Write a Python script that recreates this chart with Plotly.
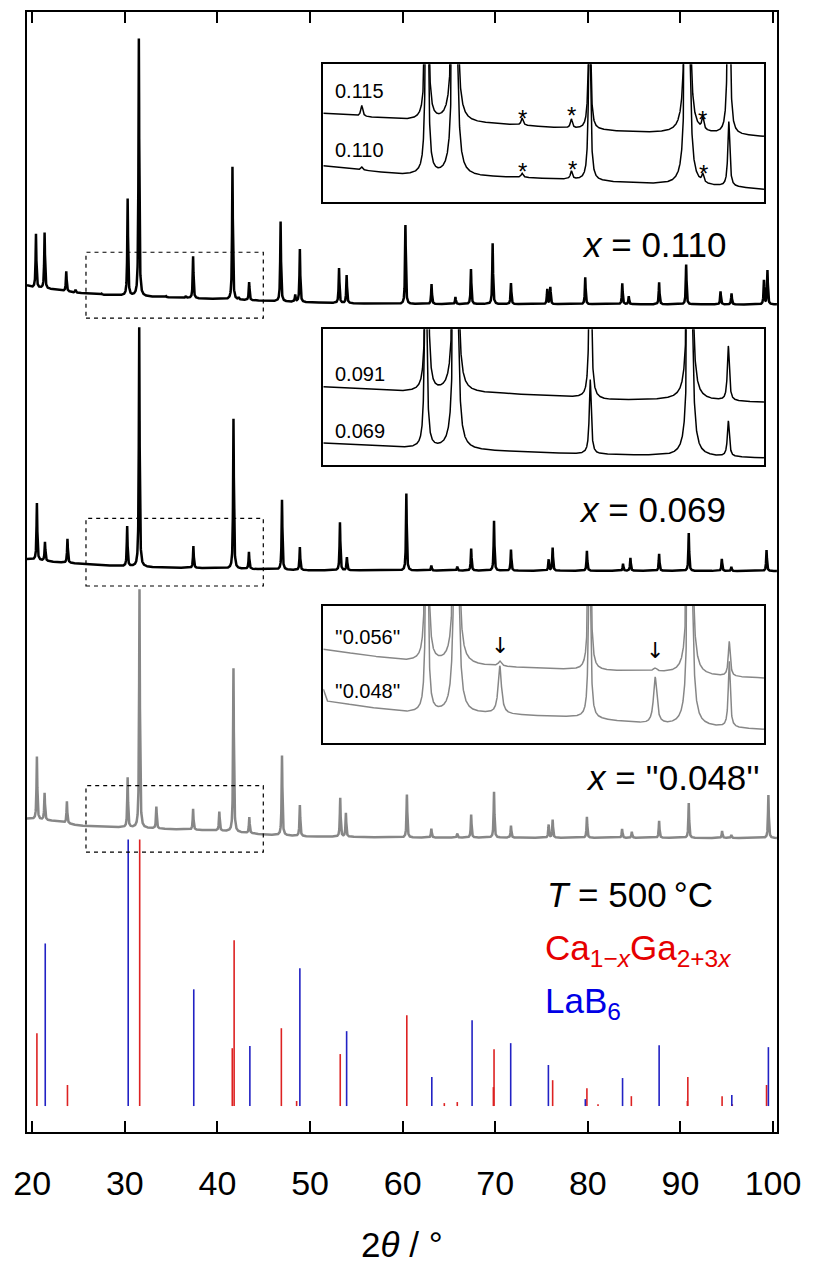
import numpy as np
import plotly.graph_objects as go

# ---------------- data ----------------
X_MIN, X_MAX = 19.43, 100.43
tick_vals = [20, 30, 40, 50, 60, 70, 80, 90, 100]
tick_text = ["20", "30", "40", "50", "60", "70", "80", "90", "100"]

# reference stick patterns (relative intensity, %)
caga_pos = [20.5, 23.8, 31.6, 41.6, 41.8, 46.9, 48.55, 53.26, 60.45, 64.5, 65.9, 69.8, 69.87,
            76.2, 79.9, 81.1, 84.7, 90.75, 90.8, 94.5, 95.6, 99.3]
caga_int = [27.3, 7.9, 100, 21.7, 62.2, 29.2, 1.9, 19.5, 34.1, 1.1, 1.5, 7.1, 21.3,
            9.7, 6.7, 0.7, 3.7, 1.9, 10.9, 3.7, 0.7, 7.9]
lab6_pos = [21.4, 30.36, 37.44, 43.5, 48.9, 53.95, 63.15, 67.5, 71.67, 75.74, 79.73, 83.75,
            87.7, 95.55, 99.5]
lab6_int = [61.0, 100, 43.8, 22.5, 51.7, 28.1, 10.9, 32.2, 23.6, 15.4, 2.6, 10.5, 22.8, 4.1, 22.1]

# measured patterns: peak positions (deg) and heights (arb. units), background anchors
p110_pos = [20.40, 21.33, 23.67, 24.67, 27.47, 30.30, 31.51, 34.44, 36.58, 37.37, 41.62, 42.29, 43.42,
            46.82, 48.40, 48.90, 53.13, 53.95, 60.30, 63.12, 65.70, 67.38, 69.72, 71.70,
            75.62, 75.95, 79.72, 83.72, 84.42, 87.70, 90.62, 94.33, 95.52, 99.02, 99.40]
p110_h = [54, 56, 20, 3, 1, 97, 258, 1, 2, 42, 133, 2, 18,
          80, 7, 53, 35, 28, 79, 20, 7, 35, 61, 21,
          15, 17, 27, 21, 8, 22, 40, 13, 11, 24, 34]
p110_offset = 829
p110_bg_x = [19.43, 20.0, 22.5, 24.5, 27, 32, 38, 44, 50, 58, 100.43]
p110_bg_y = [19, 17, 15, 12, 10, 8, 6, 4, 2, 0.5, 0]

p069_pos = [20.50, 21.37, 23.80, 30.25, 31.55, 37.40, 41.73, 43.40, 46.97, 48.90, 53.23, 53.98,
            60.40, 63.10, 65.90, 67.40, 69.87, 71.70, 75.77, 76.20, 79.90, 83.80, 84.60,
            87.70, 90.90, 94.47, 95.50, 99.30]
p069_h = [57, 19, 24, 40, 240, 22, 150, 17, 70, 23, 48, 13,
          77, 5, 4, 22, 50, 21, 11, 23, 20, 7, 13,
          17, 38, 12, 4, 21]
p069_offset = 562
p069_bg_x = [19.43, 22.5, 25, 29, 34.5, 40, 45, 50, 60, 100.43]
p069_bg_y = [12, 9, 7.5, 5, 3.3, 2.7, 1.7, 0.7, 0.5, 0]

p048_pos = [20.50, 21.33, 23.74, 30.30, 31.58, 33.40, 37.37, 40.20, 41.73, 43.44, 46.97, 48.90,
            53.26, 53.87, 60.46, 63.10, 65.90, 67.40, 69.87, 71.70, 75.77, 76.20, 79.90,
            83.70, 84.75, 87.70, 90.90, 94.50, 95.50, 99.50]
p048_h = [63, 27, 22, 50, 239, 22, 21, 19, 164, 16, 80, 31,
          39, 24, 43, 9, 4, 23, 46, 12, 13, 18, 21,
          9, 6, 17, 35, 7, 3, 43]
p048_offset = 294.5
p048_bg_x = [19.43, 22.5, 25, 29, 34.5, 40, 45, 50, 60, 100.43]
p048_bg_y = [19.5, 17, 12.5, 11, 9, 7.5, 3.5, 1.5, 0.5, 0]

# inset (zoomed 25.8-44.95 deg) curves
INSET_X = (25.8, 44.95)
i1_up_pos = [27.47, 30.30, 31.51, 34.44, 36.58, 37.37, 41.62, 42.29, 43.42]
i1_up_h = [11, 350, 930, 7, 9, 150, 900, 12, 250]
i1_up_bg_x = [25.8, 29.3, 34.37, 36.55, 39.6, 42.21, 44.95]
i1_up_bg_y = [88.3, 81.5, 76.3, 73, 69, 68, 65]
i1_lo_pos = [27.47, 30.30, 31.51, 34.44, 36.58, 37.37, 41.62, 42.29, 43.42]
i1_lo_h = [3, 350, 930, 4, 8, 180, 900, 8, 65]
i1_lo_bg_x = [25.8, 29.3, 34.37, 36.55, 39.6, 43.9, 44.95]
i1_lo_bg_y = [35.7, 26.7, 24, 22, 18, 14, 12]

i2_up_pos = [30.30, 31.55, 37.40, 41.73, 43.40]
i2_up_h = [350, 900, 200, 900, 55]
i2_up_bg_x = [25.8, 29.3, 33.5, 36.98, 38.15, 41.2, 44.95]
i2_up_bg_y = [79.3, 74.3, 72.6, 68.3, 66, 66.3, 63.6]
i2_lo_pos = [30.25, 31.55, 37.40, 41.73, 43.40]
i2_lo_h = [250, 900, 75, 900, 36]
i2_lo_bg_x = [25.8, 29.3, 33.5, 36.98, 38.15, 41.2, 44.95]
i2_lo_bg_y = [22.6, 17.6, 14.3, 11.6, 11, 9.3, 7.6]

i3_up_pos = [30.30, 31.58, 33.47, 37.37, 40.22, 41.73, 43.44]
i3_up_h = [400, 900, 5, 250, 3, 900, 35]
i3_up_w = [0.05, 0.05, 0.08, 0.05, 0.08, 0.05, 0.05]
i3_up_bg_x = [25.8, 29.3, 32.63, 36.98, 40.03, 42.21, 44.95]
i3_up_bg_y = [94, 82.5, 77.3, 73, 71.6, 67.3, 65]
i3_lo_pos = [30.30, 31.58, 33.47, 37.37, 40.22, 41.73, 43.44]
i3_lo_h = [300, 900, 48, 200, 47, 900, 66]
i3_lo_w = [0.05, 0.05, 0.085, 0.05, 0.085, 0.05, 0.05]
i3_lo_bg_x = [25.8, 25.95, 29.3, 33.0, 37.0, 40.0, 42.2, 44.95]
i3_lo_bg_y = [54, 42, 30.5, 29, 25.5, 18.5, 16.5, 13.5]

PEAK_HWHM = 0.05

# ---------------- helpers ----------------
def profile(x, pos, hts, widths=None):
    y = np.zeros_like(x)
    if widths is None:
        widths = [PEAK_HWHM] * len(pos)
    for p, h, g in zip(pos, hts, widths):
        y += h * g * g / ((x - p) ** 2 + g * g)
    return y


# page is shown with an 8 px body margin, so the figure is 8 px smaller on each side
W, H = 813, 1263
ML, MR, MT, MB = 19, 44, 2, 139
PW, PH = W - ML - MR, H - MT - MB   # 750 x 1122
PLOT_LEFT, PLOT_BOTTOM = 27, 1132   # page px of the plot area


def fx(px):
    return (px - PLOT_LEFT) / PW


def fy(py):
    return (PLOT_BOTTOM - py) / PH


BLACK = "#000000"
GRAY = "#878787"
RED = "#dd2222"
BLUE = "#2222c4"
TXT_RED = "#e60000"
TXT_BLUE = "#0000e6"

x = np.arange(X_MIN, X_MAX, 0.01)
xi = np.arange(INSET_X[0], INSET_X[1], 0.004)

fig = go.Figure()

# main patterns
for pos, hts, off, bx, by, col in [
    (p110_pos, p110_h, p110_offset, p110_bg_x, p110_bg_y, BLACK),
    (p069_pos, p069_h, p069_offset, p069_bg_x, p069_bg_y, BLACK),
    (p048_pos, p048_h, p048_offset, p048_bg_x, p048_bg_y, GRAY),
]:
    y = off + np.interp(x, bx, by) + profile(x, pos, hts)
    fig.add_trace(go.Scatter(x=x, y=y, mode="lines", line=dict(color=col, width=2.5),
                             hoverinfo="skip", showlegend=False))

# reference sticks
STICK_BASE = 26
STICK_SCALE = 2.67
for pos, ints, col in [(caga_pos, caga_int, RED), (lab6_pos, lab6_int, BLUE)]:
    sx, sy = [], []
    for p, v in zip(pos, ints):
        sx += [p, p, None]
        sy += [STICK_BASE, STICK_BASE + v * STICK_SCALE, None]
    fig.add_trace(go.Scatter(x=sx, y=sy, mode="lines", line=dict(color=col, width=1.6),
                             hoverinfo="skip", showlegend=False))

# insets
insets = [
    [(i1_up_pos, i1_up_h, None, i1_up_bg_x, i1_up_bg_y),
     (i1_lo_pos, i1_lo_h, None, i1_lo_bg_x, i1_lo_bg_y), BLACK],
    [(i2_up_pos, i2_up_h, None, i2_up_bg_x, i2_up_bg_y),
     (i2_lo_pos, i2_lo_h, None, i2_lo_bg_x, i2_lo_bg_y), BLACK],
    [(i3_up_pos, i3_up_h, i3_up_w, i3_up_bg_x, i3_up_bg_y),
     (i3_lo_pos, i3_lo_h, i3_lo_w, i3_lo_bg_x, i3_lo_bg_y), GRAY],
]
for k, (up, lo, col) in enumerate(insets, start=2):
    for pos, hts, wd, bx, by in (up, lo):
        y = np.interp(xi, bx, by) + profile(xi, pos, hts, wd)
        fig.add_trace(go.Scatter(x=xi, y=y, mode="lines", line=dict(color=col, width=1.5),
                                 xaxis=f"x{k}", yaxis=f"y{k}", hoverinfo="skip",
                                 showlegend=False))

# inset boxes (page px): left, right, top, bottom
inset_px = [(323.3, 764, 62.3, 200), (323.3, 764, 327.7, 464.3), (323.3, 764, 605, 742.3)]
INSET_YR = [0, 137.5]
layout_axes = {}
for k, (l, r, t, b) in enumerate(inset_px, start=2):
    layout_axes[f"xaxis{k}"] = dict(domain=[fx(l), fx(r)], range=list(INSET_X), anchor=f"y{k}",
                                    showline=True, mirror=True, linecolor="black", linewidth=2,
                                    ticks="", showticklabels=False, showgrid=False, zeroline=False)
    layout_axes[f"yaxis{k}"] = dict(domain=[fy(b), fy(t)], range=INSET_YR, anchor=f"x{k}",
                                    showline=True, mirror=True, linecolor="black", linewidth=2,
                                    ticks="", showticklabels=False, showgrid=False, zeroline=False)

# dashed zoom boxes on main axes (y limits in main units)
zoom_boxes = [(815.3, 881.3), (547, 614.7), (280.3, 347)]
shapes = []
for y0, y1 in zoom_boxes:
    shapes.append(dict(type="rect", xref="x", yref="y", x0=INSET_X[0], x1=INSET_X[1], y0=y0, y1=y1,
                       line=dict(color="black", width=1.2, dash="4px,4px"), layer="above"))

SANS = "Liberation Sans, Arial, Helvetica, sans-serif"
annotations = []


def ann(text, x, y, xref="paper", yref="paper", size=35, color="black", xanchor="center",
        yanchor="middle", family=SANS):
    annotations.append(dict(text=text, x=x, y=y, xref=xref, yref=yref, showarrow=False,
                            xanchor=xanchor, yanchor=yanchor,
                            font=dict(size=size, color=color, family=family)))


# sample labels
ann("<i>x</i> = 0.110", fx(728), fy(242.5), xanchor="right")
ann("<i>x</i> = 0.069", fx(728.3), fy(508.5), xanchor="right")
ann("<i>x</i> = ''0.048''", fx(761.7), fy(776.5), xanchor="right")
# legend-like text
ann("<i>T</i> = 500\u2009°C", fx(545), fy(894), xanchor="left")
ann("Ca<sub>1\u2212<i>x</i></sub>Ga<sub>2+3<i>x</i></sub>", fx(543), fy(950), xanchor="left",
    color=TXT_RED)
ann("LaB<sub>6</sub>", fx(543), fy(1003), xanchor="left", color=TXT_BLUE)
# axis title
ann("2<i>θ</i> / °", fx(402), fy(1245), size=35)

# inset labels
ann("0.115", 26.22, 111, xref="x2", yref="y2", size=20, xanchor="left")
ann("0.110", 26.22, 51.5, xref="x2", yref="y2", size=20, xanchor="left")
ann("0.091", 26.22, 91.8, xref="x3", yref="y3", size=20, xanchor="left")
ann("0.069", 26.22, 34.8, xref="x3", yref="y3", size=20, xanchor="left")
ann("''0.056''", 26.22, 106.5, xref="x4", yref="y4", size=20, xanchor="left")
ann("''0.048''", 26.22, 52.3, xref="x4", yref="y4", size=20, xanchor="left")
# stars (impurity)
for sx, sy in [(34.44, 83.3), (36.58, 85.7), (42.29, 81.7), (34.44, 30), (36.62, 31.7), (42.33, 28.3)]:
    ann("*", sx, sy, xref="x2", yref="y2", size=24)
# arrows
for ax_, ay_ in [(33.47, 98.3), (40.22, 92.3)]:
    ann("\u2193", ax_, ay_, xref="x4", yref="y4", size=22, family="DejaVu Sans")

fig.update_layout(
    width=W, height=H, autosize=False,
    margin=dict(l=ML, r=MR, t=MT, b=MB, pad=0),
    paper_bgcolor="white", plot_bgcolor="white",
    showlegend=False,
    xaxis=dict(range=[X_MIN, X_MAX], domain=[0, 1], tickvals=tick_vals, ticktext=tick_text,
               ticks="inside", ticklen=11, tickwidth=1.5, tickcolor="black",
               showline=True, mirror="ticks", linecolor="black", linewidth=2,
               showgrid=False, zeroline=False, ticklabelstandoff=20,
               tickfont=dict(size=34, family=SANS, color="black")),
    yaxis=dict(range=[0, PH], domain=[0, 1], showline=True, mirror=True, linecolor="black",
               linewidth=2, ticks="", showticklabels=False, showgrid=False, zeroline=False),
    shapes=shapes,
    annotations=annotations,
    **layout_axes,
)

fig.write_html("out.html")
